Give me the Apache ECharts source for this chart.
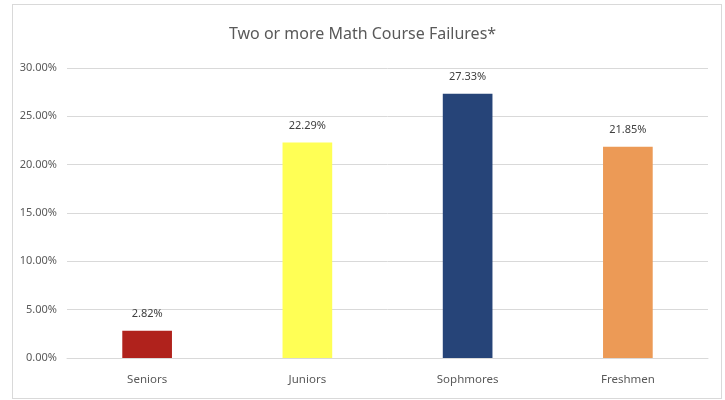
<!DOCTYPE html>
<html style="height: 100%">
<head>
    <meta charset="UTF-8">
    <script src="https://cdn.jsdelivr.net/npm/echarts@6/dist/echarts.min.js"></script>
</head>
<body style="margin: 0;background: #FFF;height: 400px;overflow: hidden;">
<div style="position: absolute;left: 12px;top: 4px;width: 708px;height: 393px;border: 1px solid #d9d9d9;"></div>
<div id="chart-main" style="position: absolute;left: 0;top: 0;width: 725px;height: 400px;"></div>

<script>
    var categories = ['Seniors', 'Juniors', 'Sophmores', 'Freshmen'];
    var values = [2.82, 22.29, 27.33, 21.85];
    var barColors = ['#B0221C', '#FFFF55', '#264478', '#EC9A56'];
    var yTicks = [0, 5, 10, 15, 20, 25, 30];

    var font = '"Noto Sans", sans-serif';
    var myChart = echarts.init(document.getElementById('chart-main'));
    var option = {
        animation: false,
        title: {
            text: 'Two or more Math Course Failures*',
            left: 'center',
            top: 21,
            textStyle: {color: '#595959', fontSize: 16, fontWeight: 'normal', fontFamily: font}
        },
        grid: {left: 67, right: 17, top: 68, bottom: 42},
        xAxis: {
            type: 'category',
            data: categories,
            axisLine: {lineStyle: {color: '#d9d9d9'}},
            axisTick: {show: false},
            axisLabel: {color: '#595959', fontSize: 11.5, margin: 16, fontFamily: font}
        },
        yAxis: {
            type: 'value',
            min: yTicks[0],
            max: yTicks[yTicks.length - 1],
            interval: 5,
            axisLine: {show: false},
            axisTick: {show: false},
            splitLine: {lineStyle: {color: '#d9d9d9'}},
            axisLabel: {
                color: '#595959', fontSize: 11, margin: 10, fontFamily: font,
                formatter: function (v) { return v.toFixed(2) + '%'; }
            }
        },
        series: [{
            type: 'bar',
            barWidth: '31%',
            data: values.map(function (v, i) {
                return {value: v, itemStyle: {color: barColors[i]}};
            }),
            label: {
                show: true,
                position: 'top',
                distance: 11,
                color: '#404040',
                fontSize: 11,
                fontFamily: font,
                formatter: function (p) { return p.value.toFixed(2) + '%'; }
            }
        }]
    };
    myChart.setOption(option, true);
</script>
</body>
</html>
